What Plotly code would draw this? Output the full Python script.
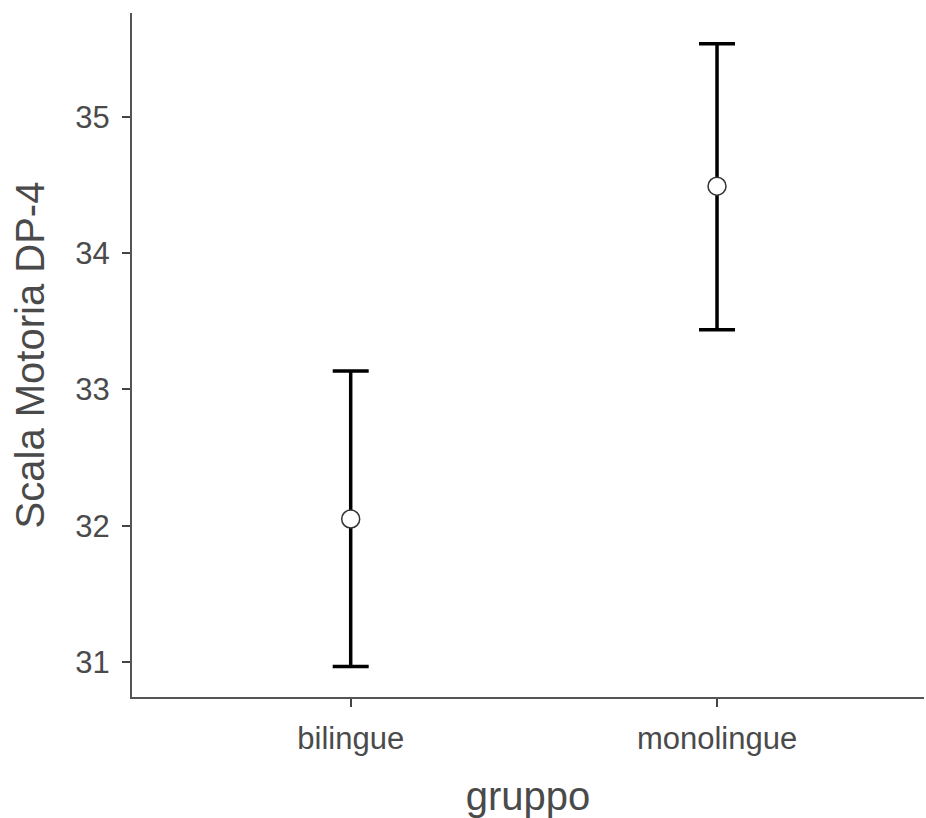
import plotly.graph_objects as go

groups = ["bilingue", "monolingue"]
means = [32.05, 34.49]
ci_upper = [33.135, 35.535]
ci_lower = [30.968, 33.438]

err_plus = [u - m for u, m in zip(ci_upper, means)]
err_minus = [m - l for m, l in zip(means, ci_lower)]

fig = go.Figure()
fig.add_trace(go.Scatter(
    x=groups, y=means, mode="markers",
    marker=dict(size=18, color="white", line=dict(color="#333333", width=1.5)),
    error_y=dict(type="data", symmetric=False, array=err_plus, arrayminus=err_minus,
                 color="black", thickness=3.5, width=18),
    showlegend=False,
))

fig.update_layout(
    width=926, height=818,
    margin=dict(l=132, r=2, t=13, b=121),
    paper_bgcolor="white", plot_bgcolor="white",
    font=dict(family="Liberation Sans, Arial, sans-serif", color="#4a4a4a"),
)
fig.update_xaxes(
    range=[-0.597, 1.565], showline=True, linecolor="#555555", linewidth=2,
    ticks="outside", ticklen=8, tickwidth=2, tickcolor="#444444",
    ticklabelstandoff=5,
    tickfont=dict(size=31, color="#4a4a4a"), showgrid=False, zeroline=False,
    title=dict(text="gruppo", font=dict(size=40, color="#4a4a4a"), standoff=27),
)
fig.update_yaxes(
    range=[30.745, 35.76], showline=True, linecolor="#555555", linewidth=2,
    tickvals=[31, 32, 33, 34, 35],
    ticks="outside", ticklen=8, tickwidth=2, tickcolor="#444444",
    ticklabelstandoff=6,
    tickfont=dict(size=31, color="#4a4a4a"), showgrid=False, zeroline=False,
    title=dict(text="Scala Motoria DP-4", font=dict(size=40, color="#4a4a4a"), standoff=18),
)

fig.write_html(
    "out.html",
    config={"displayModeBar": False},
    post_script="document.body.style.margin='0';document.body.style.overflow='hidden';",
)
